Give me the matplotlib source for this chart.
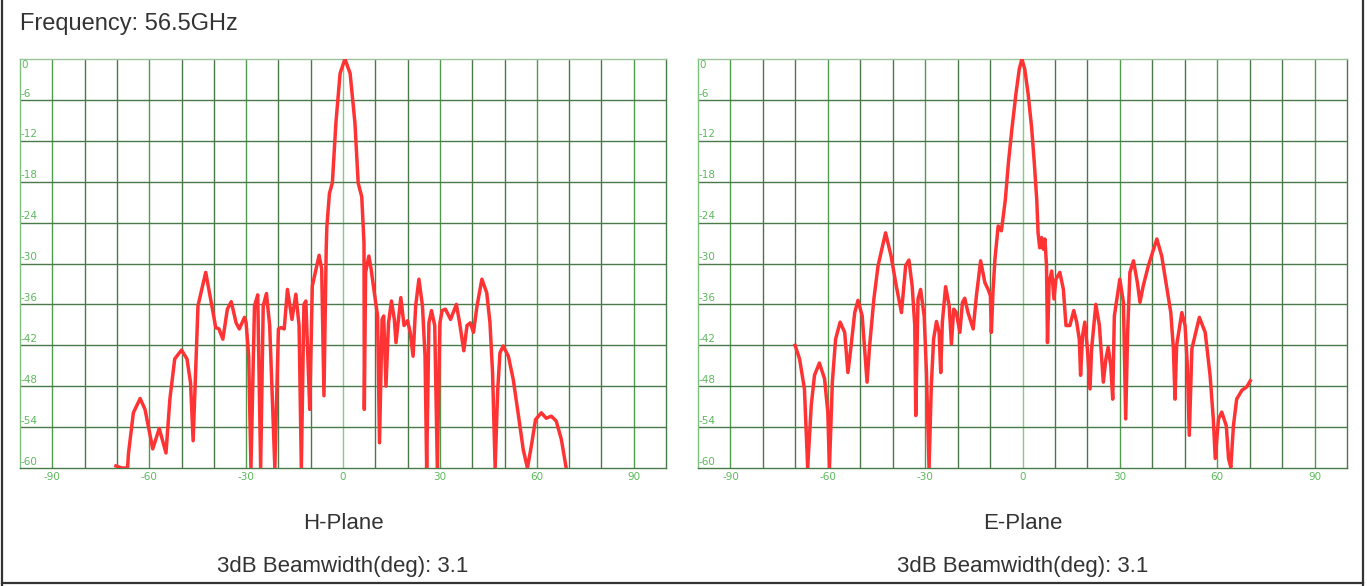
import matplotlib
matplotlib.use("Agg")
from matplotlib import pyplot as plt
from matplotlib.lines import Line2D

# H-Plane pattern (deg, dB)
h_deg = [-70.3, -68.5, -66.7, -66.4, -64.9, -62.8, -61.3, -58.9, -56.9, -54.8,
         -53.6, -52.1, -50.0, -48.3, -47.2, -46.4, -45.6, -44.9, -42.5, -40.8,
         -39.4, -38.4, -37.2, -35.8, -34.6, -33.1, -32.1, -30.5, -30.0, -29.2,
         -28.5, -27.4, -26.4, -25.5, -24.7, -23.7, -22.7, -21.1, -20.0, -19.2,
         -18.2, -17.2, -15.8, -14.6, -13.6, -12.9, -12.1, -11.5, -10.3, -9.5,
         -7.4, -6.6, -5.9, -5.2, -5.0, -4.2, -3.3, -2.2, -0.9, 0.6,
         2.2, 3.7, 4.7, 5.8, 6.5, 6.6, 7.0, 8.0, 8.7, 9.7,
         10.7, 11.3, 12.1, 12.6, 13.3, 14.1, 15.0, 15.9, 16.4, 17.9,
         18.9, 20.0, 20.8, 21.7, 22.5, 23.5, 24.6, 25.4, 25.9, 26.6,
         27.4, 28.4, 29.2, 30.0, 30.7, 31.7, 33.3, 35.1, 36.1, 37.4,
         38.4, 39.4, 40.4, 41.5, 43.0, 44.5, 45.5, 46.3, 47.1, 47.9,
         48.6, 49.6, 51.2, 52.7, 54.2, 55.8, 57.1, 58.3, 59.6, 61.4,
         62.9, 64.5, 66.0, 67.6, 69.1]
h_db = [-59.7, -60, -60, -57.8, -51.9, -49.8, -51.4, -57.2, -54.2, -57.8,
        -49.9, -44.0, -42.7, -44.0, -47.5, -56.0, -45.5, -36.2, -31.3, -35.7,
        -39.4, -39.6, -41.1, -36.7, -35.6, -38.7, -39.6, -37.9, -38.7, -43.6,
        -60, -36.2, -34.6, -60, -36.2, -34.4, -39.1, -60, -39.6, -39.4,
        -39.6, -33.8, -38.2, -34.5, -39.1, -60, -36.0, -35.5, -51.4, -33.3,
        -28.8, -30.8, -49.4, -27.9, -24.6, -19.7, -18.2, -9.4, -2.1, 0,
        -2.1, -9.4, -18.2, -20.2, -27.0, -51.4, -31.3, -28.9, -30.8, -34.3,
        -37.7, -56.3, -38.2, -37.7, -48.0, -38.7, -35.5, -38.2, -41.6, -35.0,
        -39.1, -38.4, -40.1, -43.6, -36.2, -32.3, -36.2, -43.6, -60, -38.7,
        -36.9, -39.1, -60, -38.7, -36.9, -36.7, -38.2, -36.0, -38.7, -42.8,
        -39.1, -38.7, -40.1, -36.2, -32.3, -34.3, -38.7, -46.0, -60, -48.5,
        -43.1, -42.1, -43.6, -47.0, -51.9, -57.3, -60, -56.8, -52.9, -51.9,
        -52.7, -52.4, -53.1, -55.8, -60]

# E-Plane pattern (deg, dB)
e_deg = [-70.1, -68.7, -67.2, -66.2, -65.1, -64.1, -62.6, -61.0, -60.0, -59.5,
         -58.6, -57.6, -56.2, -54.8, -53.8, -52.8, -51.7, -50.7, -49.4, -47.9,
         -47.1, -45.8, -44.5, -42.2, -40.5, -38.9, -37.3, -36.0, -35.0, -34.0,
         -33.2, -32.9, -32.2, -31.4, -30.3, -29.6, -28.8, -28.1, -27.4, -26.5,
         -25.7, -25.2, -24.7, -23.7, -22.6, -21.9, -21.2, -20.4, -19.3, -18.5,
         -17.8, -16.8, -15.2, -14.2, -12.9, -11.6, -10.6, -9.9, -9.6, -9.1,
         -8.5, -7.5, -6.5, -5.3, -4.3, -3.2, -2.0, -1.0, -0.2, 0.7,
         1.7, 2.8, 3.6, 4.4, 4.8, 5.3, 5.9, 6.4, 6.9, 7.4,
         7.7, 8.2, 9.0, 9.7, 10.3, 11.5, 12.6, 13.4, 14.6, 15.8,
         16.7, 17.5, 17.9, 18.5, 19.2, 20.0, 20.8, 21.3, 22.6, 23.7,
         24.4, 24.9, 25.7, 26.4, 27.2, 27.8, 28.3, 30.0, 31.1, 31.8,
         32.4, 33.1, 34.2, 35.4, 36.2, 37.2, 38.8, 41.4, 42.9, 44.4,
         45.7, 46.5, 47.0, 47.5, 49.1, 50.1, 50.8, 51.4, 52.2, 54.5,
         56.3, 57.8, 58.8, 59.4, 60.4, 61.4, 62.8, 63.5, 64.2, 65.0,
         66.0, 67.6, 69.1, 70.2]
e_db = [-42.0, -44.0, -48.4, -60.0, -50.8, -46.4, -44.6, -46.9, -51.8, -60.0,
        -47.4, -41.1, -38.6, -40.1, -46.0, -42.0, -37.2, -35.4, -37.7, -47.4,
        -42.0, -35.2, -30.3, -25.5, -28.9, -33.3, -37.2, -30.3, -29.5, -33.3,
        -39.1, -52.3, -35.2, -33.8, -37.7, -46.0, -60.0, -47.9, -41.1, -38.5,
        -40.1, -46.0, -38.6, -33.4, -36.2, -41.8, -36.7, -37.2, -40.1, -35.7,
        -35.1, -37.2, -39.6, -34.7, -29.6, -32.8, -33.8, -34.7, -40.1, -34.2,
        -29.4, -24.5, -25.2, -20.7, -15.0, -10.0, -5.0, -1.5, 0.0, -1.5,
        -5.0, -10.0, -15.0, -20.7, -25.5, -27.7, -26.2, -27.9, -26.4, -30.3,
        -41.6, -32.8, -31.1, -35.2, -32.3, -31.3, -33.8, -39.1, -39.1, -36.9,
        -38.6, -41.1, -46.4, -40.6, -38.6, -42.5, -48.4, -42.5, -36.0, -39.1,
        -44.0, -47.4, -44.0, -42.3, -45.0, -49.9, -37.7, -32.3, -35.7, -52.8,
        -40.1, -31.3, -29.6, -32.8, -35.7, -33.3, -30.3, -26.4, -28.9, -33.3,
        -37.2, -42.5, -49.9, -42.0, -37.2, -39.1, -45.0, -55.2, -42.5, -37.9,
        -40.1, -46.4, -52.8, -58.6, -52.8, -51.8, -53.8, -58.6, -59.9, -53.8,
        -49.9, -48.6, -48.1, -47.2]

x_ticks = [-90, -60, -30, 0, 30, 60, 90]
y_ticks = [0, -6, -12, -18, -24, -30, -36, -42, -48, -54, -60]
plane_names = ["H-Plane", "E-Plane"]
beamwidths = [3.1, 3.1]

W, H = 1367, 586
fig = plt.figure(figsize=(W / 100, H / 100), dpi=100)
fig.patch.set_facecolor("white")

tick_green = "#5cb85c"
dark_grid = "#4a7a4a"
font = "Liberation Sans"

# axes boxes in pixels: left, right, top, bottom
boxes = [(20, 666, 59, 468), (698, 1347, 59, 468)]
curves = [(h_deg, h_db), (e_deg, e_db)]

for i, (x0, x1, y0, y1) in enumerate(boxes):
    ax = fig.add_axes([x0 / W, 1 - y1 / H, (x1 - x0) / W, (y1 - y0) / H])
    ax.set_xlim(-100, 100)
    ax.set_ylim(-60, 0)
    ax.set_xticks([])
    ax.set_yticks([])
    for s in ax.spines.values():
        s.set_color(dark_grid)
        s.set_linewidth(1.0)
    ax.spines["top"].set_color("#9cc49c")
    ax.spines["left"].set_color("#7fbf7f")

    # grid
    for gx in range(-90, 100, 10):
        if gx == 0:
            c = "#80cc80"
        elif gx % 30 == 0:
            c = "#4f9a4f"
        else:
            c = dark_grid
        ax.axvline(gx, color=c, lw=1.0, zorder=1)
    for gy in y_ticks[1:-1]:
        ax.axhline(gy, color=dark_grid, lw=1.0, zorder=1)

    # tick labels
    for t in x_ticks:
        ax.text(t, -0.021, str(t), transform=ax.get_xaxis_transform(),
                ha="center", va="center", fontsize=7.5, color=tick_green,
                family="DejaVu Sans")
    for t in y_ticks:
        if t == 0:
            ax.text(-99.7, t - 0.2, "0", ha="left", va="top", fontsize=7.5,
                    color=tick_green, family="DejaVu Sans")
        else:
            ax.text(-99.7, t + 0.2, str(t), ha="left", va="bottom", fontsize=7.5,
                    color=tick_green, family="DejaVu Sans")

    deg, db = curves[i]
    ax.plot(deg, db, color="#ff3333", lw=2.5, solid_joinstyle="round", zorder=3)

    cx = (x0 + x1) / 2 / W
    fig.text(cx, 1 - 529 / H, plane_names[i], ha="center", va="baseline",
             fontsize=16, color="#333333", family=font)
    fig.text(cx, 1 - 572 / H, "3dB Beamwidth(deg): %.1f" % beamwidths[i],
             ha="center", va="baseline", fontsize=16, color="#333333", family=font)

fig.text(20 / W, 1 - 30 / H, "Frequency: 56.5GHz", ha="left", va="baseline",
         fontsize=17, color="#333333", family=font)

# outer frame
for xs, ys in [([2 / W, 2 / W], [0, 1]),
               ([2 / W, 1363 / W], [1 - 583 / H, 1 - 583 / H]),
               ([1363 / W, 1363 / W], [0, 1])]:
    fig.add_artist(Line2D(xs, ys, color="#333333", lw=1.6))

fig.savefig("out.png", dpi=100)
